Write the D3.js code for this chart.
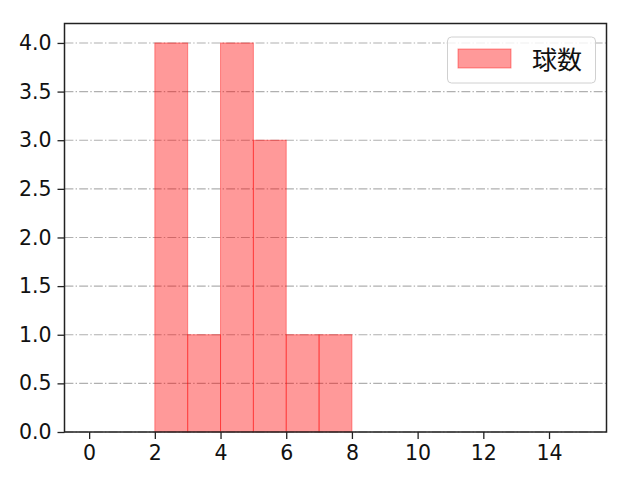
<!DOCTYPE html>
<html><head><meta charset="utf-8">
<script src="https://cdn.jsdelivr.net/npm/d3@7"></script>
<style>body{margin:0;background:#fff}</style>
</head><body>
<svg id="c" width="640" height="480"></svg>
<script>
const binStarts = [0,1,2,3,4,5,6,7,8,9,10,11,12,13,14];
const counts    = [0,0,4,1,4,3,1,1,0,0,0,0,0,0,0];
const xTicks = [0,2,4,6,8,10,12,14];
const yTicks = [0,0.5,1,1.5,2,2.5,3,3.5,4];
const seriesName = "球数";

const font = "'DejaVu Sans', 'Noto Sans CJK JP', sans-serif";
const svg = d3.select("#c");
const L=64.5, R=606.5, T=23.5, B=432;
const x = d3.scaleLinear().domain([-0.75,15.75]).range([L,R]);
const y = d3.scaleLinear().domain([0,4.2]).range([B,T]);

// grid
svg.append("g").selectAll("line").data(yTicks).join("line")
  .attr("x1",L).attr("x2",R).attr("y1",d=>y(d)).attr("y2",d=>y(d))
  .attr("stroke","#b0b0b0").attr("stroke-width",1.1)
  .attr("stroke-dasharray","8.9,2.2,1.4,2.2");

// bars
svg.append("g").selectAll("rect").data(binStarts.map((b,i)=>({b,c:counts[i]})).filter(d=>d.c>0)).join("rect")
  .attr("x",d=>x(d.b)).attr("width",d=>x(d.b+1)-x(d.b))
  .attr("y",d=>y(d.c)).attr("height",d=>y(0)-y(d.c))
  .attr("fill","rgba(255,0,0,0.4)").attr("stroke","rgba(255,0,0,0.4)").attr("stroke-width",1);

// axes
const xa = svg.append("g").attr("transform",`translate(0,${B})`)
  .call(d3.axisBottom(x).tickValues(xTicks).tickSize(7).tickPadding(6).tickFormat(d3.format("d")));
const ya = svg.append("g").attr("transform",`translate(${L},0)`)
  .call(d3.axisLeft(y).tickValues(yTicks).tickSize(7).tickPadding(6).tickFormat(d3.format(".1f")));
[xa,ya].forEach(a=>{
  a.select(".domain").remove();
  a.selectAll("line").attr("stroke","#222").attr("stroke-width",1.3);
  a.selectAll("text").attr("font-family",font).attr("font-size",20.5).attr("fill","#111");
});
// frame
svg.append("rect").attr("x",L).attr("y",T).attr("width",R-L).attr("height",B-T)
  .attr("fill","none").attr("stroke","#222").attr("stroke-width",1.5);

// legend
const lg = svg.append("g");
lg.append("rect").attr("x",447.5).attr("y",37).attr("width",148).attr("height",46).attr("rx",4)
  .attr("fill","rgba(255,255,255,0.8)").attr("stroke","#d0d0d0").attr("stroke-width",1);
lg.append("rect").attr("x",458).attr("y",49).attr("width",53).attr("height",19)
  .attr("fill","rgba(255,0,0,0.4)").attr("stroke","rgba(255,0,0,0.4)");
lg.append("text").attr("x",532).attr("y",69).attr("font-family","'Noto Sans CJK JP', sans-serif").attr("font-size",25)
  .attr("fill","#111").text(seriesName);
</script>
</body></html>
